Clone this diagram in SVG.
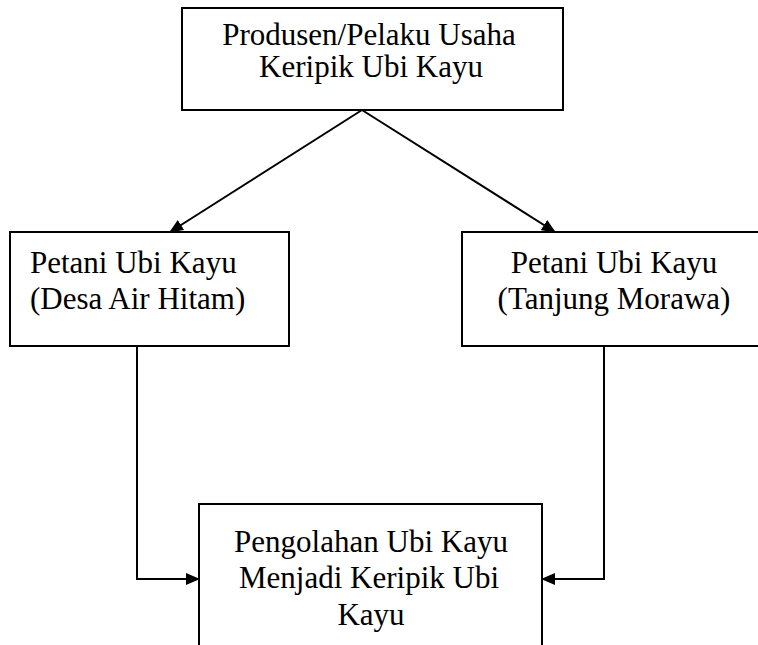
<svg xmlns="http://www.w3.org/2000/svg" width="758" height="645" viewBox="0 0 758 645">
<style>
.box{fill:#fff;stroke:#000;stroke-width:2}
.ln{fill:none;stroke:#000;stroke-width:2}
</style>
<defs>
<marker id="ah" markerUnits="userSpaceOnUse" markerWidth="14" markerHeight="12" refX="13" refY="6" orient="auto">
<path d="M0,0 L14,6 L0,12 Z" fill="#000"/>
</marker>
</defs>
<rect width="758" height="645" fill="#fff"/>
<g id="connectors">
<line class="ln" x1="362" y1="110" x2="170" y2="232" marker-end="url(#ah)"/>
<line class="ln" x1="362" y1="110" x2="555" y2="232" marker-end="url(#ah)"/>
<polyline class="ln" points="137,346 137,579 199,579" marker-end="url(#ah)"/>
<polyline class="ln" points="604,346 604,579 542,579" marker-end="url(#ah)"/>
</g>
<g font-family="'Liberation Serif', 'DejaVu Serif', serif" font-size="31" fill="#000">
<g id="produsen">
<rect class="box" x="182" y="8" width="381" height="102"/>
<text text-anchor="middle" x="369" y="45">Produsen/Pelaku Usaha</text>
<text text-anchor="middle" x="371" y="77">Keripik Ubi Kayu</text>
</g>
<g id="petani-air-hitam">
<rect class="box" x="10" y="232" width="279" height="114"/>
<text x="30" y="273">Petani Ubi Kayu</text>
<text x="30" y="309">(Desa Air Hitam)</text>
</g>
<g id="petani-tanjung-morawa">
<rect class="box" x="462" y="232" width="320" height="114"/>
<text text-anchor="middle" x="614" y="273">Petani Ubi Kayu</text>
<text text-anchor="middle" x="614" y="309">(Tanjung Morawa)</text>
</g>
<g id="pengolahan">
<rect class="box" x="199" y="504" width="343" height="160"/>
<text text-anchor="middle" x="371" y="552">Pengolahan Ubi Kayu</text>
<text text-anchor="middle" x="369" y="588">Menjadi Keripik Ubi</text>
<text text-anchor="middle" x="371" y="625">Kayu</text>
</g>
</g>
</svg>
